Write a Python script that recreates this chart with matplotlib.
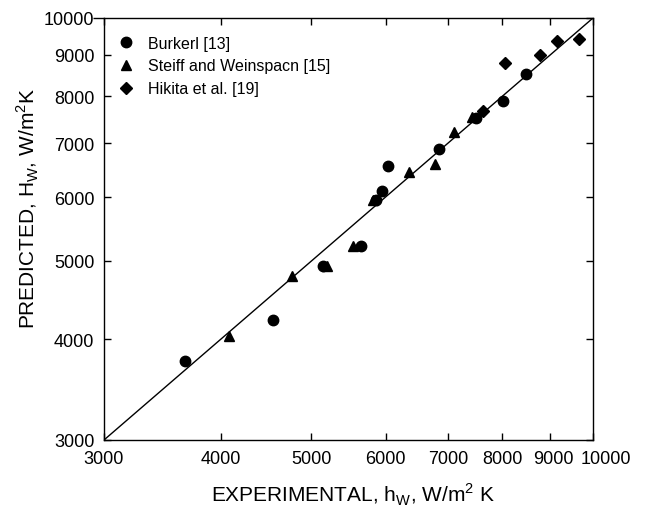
import matplotlib
matplotlib.use("Agg")
import matplotlib.pyplot as plt
from matplotlib import lines as mlines
from matplotlib.transforms import ScaledTranslation
from matplotlib.ticker import FixedLocator, FixedFormatter, NullLocator

plt.rcParams['font.family'] = ['Liberation Sans', 'DejaVu Sans']
plt.rcParams['mathtext.fontset'] = 'custom'
plt.rcParams['mathtext.rm'] = 'Liberation Sans'

# Data (experimental, predicted)
burkerl_x = [3664, 4548, 5139, 5643, 5857, 5944, 6042, 6836, 7491, 8019, 8482]
burkerl_y = [3758, 4224, 4931, 5223, 5956, 6110, 6551, 6883, 7517, 7900, 8523]

steiff_x = [4080, 4764, 5191, 5536, 5815, 6358, 6778, 7100, 7419]
steiff_y = [4038, 4794, 4931, 5223, 5956, 6439, 6593, 7216, 7546]

hikita_x = [7623, 8055, 8774, 9159, 9664]
hikita_y = [7677, 8785, 9003, 9372, 9421]

ticks = [3000, 4000, 5000, 6000, 7000, 8000, 9000, 10000]
tick_labels = ['3000', '4000', '5000', '6000', '7000', '8000', '9000', '10000']
lims = [3000, 10000]

fig = plt.figure(figsize=(6.45, 5.1), dpi=100)
ax = fig.add_axes([104/645, 1-441/510, (593-104)/645, (441-19)/510])

ax.plot(lims, lims, color='black', lw=1.0, zorder=1)
ax.plot(burkerl_x, burkerl_y, 'o', color='black', ms=7.5, ls='none', label='Burkerl [13]', zorder=3)
ax.plot(steiff_x, steiff_y, '^', color='black', ms=7.5, ls='none', label='Steiff and Weinspacn [15]', zorder=3)
ax.plot(hikita_x, hikita_y, 'D', color='black', ms=6.5, ls='none', label='Hikita et al. [19]', zorder=3)

ax.set_xscale('log')
ax.set_yscale('log')
ax.set_xlim(lims)
ax.set_ylim(lims)
for axis in (ax.xaxis, ax.yaxis):
    axis.set_major_locator(FixedLocator(ticks))
    axis.set_major_formatter(FixedFormatter(tick_labels))
    axis.set_minor_locator(NullLocator())

ax.tick_params(which='major', direction='in', length=5, width=1, top=True, right=True,
               labelsize=13, pad=7)
for s in ax.spines.values():
    s.set_linewidth(1.0)

# label nudges as in the reference
xt = ax.xaxis.get_major_ticks()
xt[-1].label1.set_transform(xt[-1].label1.get_transform() + ScaledTranslation(0.13, 0, fig.dpi_scale_trans))
xt[-2].label1.set_transform(xt[-2].label1.get_transform() + ScaledTranslation(0.03, 0, fig.dpi_scale_trans))
yt = ax.yaxis.get_major_ticks()
yt[-1].tick1line.set_marker(mlines.TICKLEFT)
yt[-1].tick1line.set_markersize(8)

ax.set_xlabel('EXPERIMENTAL, h$_\\mathregular{W}$, W/m$^\\mathregular{2}$ K', fontsize=15)
ax.set_ylabel('PREDICTED, H$_\\mathregular{W}$, W/m$^\\mathregular{2}$K', fontsize=15)
ax.xaxis.label.set_va('center')
ax.yaxis.label.set_va('center')
ax.xaxis.set_label_coords(0.509, -0.128)
ax.yaxis.set_label_coords(-0.155, 0.552)

ax.legend(loc='upper left', bbox_to_anchor=(0.005, 0.985), frameon=False, fontsize=11.5,
          handlelength=1.0, handletextpad=0.9, labelspacing=0.5, borderaxespad=0.3)

fig.savefig('out.png', dpi=100)
